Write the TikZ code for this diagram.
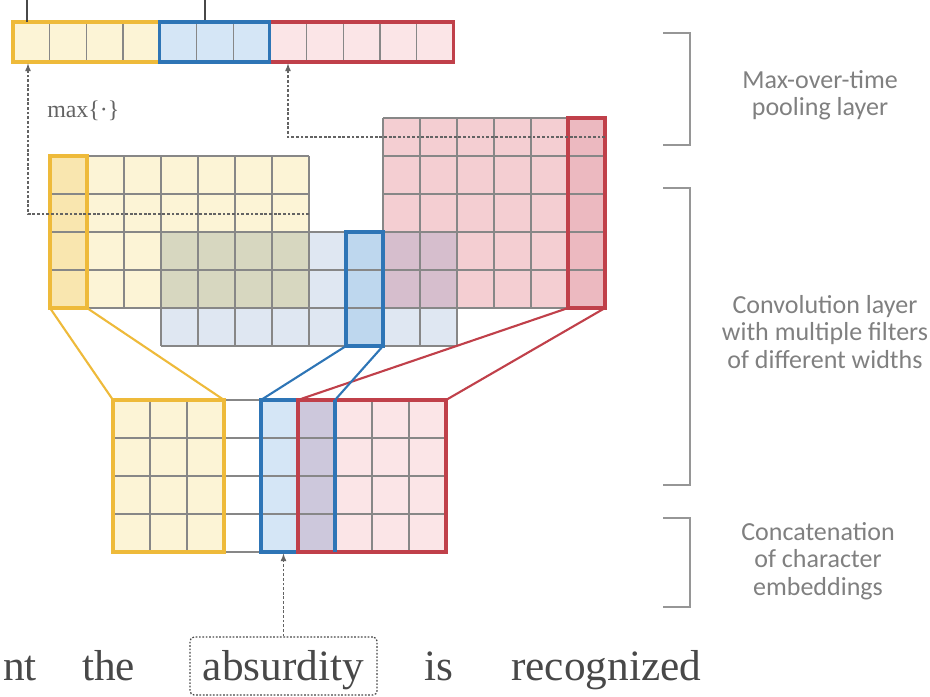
\documentclass[tikz,border=0pt]{standalone}
\usepackage{fontspec}
\setmainfont{Liberation Serif}
\newfontfamily\lblfont{Carlito}

\definecolor{ygold}{RGB}{238,186,58}
\definecolor{yfill}{RGB}{252,244,214}
\definecolor{yhl}{RGB}{249,230,175}
\definecolor{bblue}{RGB}{46,117,182}
\definecolor{bfill}{RGB}{223,231,242}
\definecolor{bbar}{RGB}{213,230,246}
\definecolor{bhl}{RGB}{190,215,238}
\definecolor{rred}{RGB}{192,64,74}
\definecolor{rfill}{RGB}{244,206,210}
\definecolor{rbar}{RGB}{251,229,231}
\definecolor{rhl}{RGB}{236,185,192}
\definecolor{ybov}{RGB}{215,215,192}
\definecolor{brov}{RGB}{214,190,205}
\definecolor{embov}{RGB}{205,200,220}
\definecolor{gridgray}{RGB}{135,135,135}
\definecolor{brkgray}{RGB}{150,150,150}
\definecolor{lblgray}{RGB}{128,128,128}
\definecolor{txtgray}{RGB}{72,72,72}

\begin{document}
\begin{tikzpicture}[x=0.025cm,y=-0.025cm,
  gridln/.style={draw=gridgray,line width=0.9pt},
  hlbox/.style={draw=#1,line width=2.2pt,inner sep=0pt,outer sep=0pt},
  conn/.style={draw=#1,line width=1.5pt},
  poolarr/.style={draw=txtgray!85,line width=0.9pt,dash pattern=on 2pt off 1.3pt,-latex,shorten >=1pt},
  tickln/.style={draw=txtgray,line width=1.4pt},
  brk/.style={draw=brkgray,line width=1.4pt},
  lbl/.style={font=\lblfont\fontsize{18.5}{19.5}\selectfont,text=lblgray,align=center,inner sep=0pt},
  word/.style={font=\fontsize{30.8}{36}\selectfont,text=txtgray,inner sep=0pt},
  maxlbl/.style={font=\fontsize{17}{20}\selectfont,text=txtgray!85,inner sep=0pt}]
\useasboundingbox (0,0) rectangle (930,697);

% Max-over-time pooling layer
\fill[yfill] (13,22) rectangle (159.8,62);
\fill[bbar] (159.8,22) rectangle (269.9,62);
\fill[rbar] (269.9,22) rectangle (453.4,62);
\foreach \i in {1,...,11} \draw[gridln] ({13+36.7*\i},23) -- ({13+36.7*\i},61);
\node[hlbox=ygold,minimum width=3.67cm,minimum height=1cm] (pooly) at (86.4,42) {};
\node[hlbox=rred,minimum width=4.5875cm,minimum height=1cm] (poolr) at (361.65,42) {};
\node[hlbox=bblue,minimum width=2.7525cm,minimum height=1cm] (poolb) at (214.85,42) {};

\coordinate (tick1) at (27,-3);
\coordinate (tick2) at (205,-3);
\draw[tickln] (tick1) -- (tick1 |- pooly.north);
\draw[tickln] (tick2) -- ([yshift=1.5pt]tick2 |- poolb.north);

% Convolution layer: three feature maps
\fill[bfill] (161,232) rectangle (457,346);
\fill[yfill] (50,156) rectangle (309,308);
\fill[rfill] (383,118) rectangle (605,308);
\fill[ybov] (161,232) rectangle (309,308);
\fill[brov] (383,232) rectangle (457,308);
\fill[yhl] (50,156) rectangle (87,308);
\fill[bhl] (346,232) rectangle (383,346);
\fill[rhl] (568,118) rectangle (605,308);

\foreach \i in {0,...,7} \draw[gridln] ({50+37*\i},156) -- ({50+37*\i},308);
\foreach \j in {0,...,4} \draw[gridln] (50,{156+38*\j}) -- (309,{156+38*\j});
\foreach \i in {0,...,8} \draw[gridln] ({161+37*\i},232) -- ({161+37*\i},346);
\foreach \j in {0,...,3} \draw[gridln] (161,{232+38*\j}) -- (457,{232+38*\j});
\foreach \i in {0,...,6} \draw[gridln] ({383+37*\i},118) -- ({383+37*\i},308);
\foreach \j in {0,...,5} \draw[gridln] (383,{118+38*\j}) -- (605,{118+38*\j});

\node[hlbox=ygold,minimum width=0.925cm,minimum height=3.8cm] (yhlc) at (68.5,232) {};
\node[hlbox=bblue,minimum width=0.925cm,minimum height=2.85cm] (bhlc) at (364.5,289) {};
\node[hlbox=rred,minimum width=0.925cm,minimum height=4.75cm] (rhlc) at (586.5,213) {};

% max pooling (dashed)
\coordinate (ydash) at (28,214);
\coordinate (rdash) at (288,137);
\coordinate (ymapE) at (309,214);
\draw[poolarr] (ymapE) -- (ydash) -- (ydash |- pooly.south);
\draw[poolarr] (rhlc.east |- rdash) -- (rdash) -- (rdash |- poolr.south);
\node[maxlbl,anchor=base west] (maxop) at (47,117) {max\{·\}};

% Concatenation of character embeddings
\fill[yfill] (113,400) rectangle (224,552);
\fill[bbar] (261,400) rectangle (298,552);
\fill[embov] (298,400) rectangle (335,552);
\fill[rbar] (335,400) rectangle (446,552);
\foreach \i in {0,...,9} \draw[gridln] ({113+37*\i},400) -- ({113+37*\i},552);
\foreach \j in {0,...,4} \draw[gridln] (113,{400+38*\j}) -- (446,{400+38*\j});
\node[hlbox=ygold,minimum width=2.775cm,minimum height=3.8cm] (yemb) at (168.5,476) {};
\node[hlbox=bblue,minimum width=1.85cm,minimum height=3.8cm] (bemb) at (298,476) {};
\node[hlbox=rred,minimum width=3.7cm,minimum height=3.8cm] (remb) at (372,476) {};
\draw[bblue,line width=2.2pt] (bemb.north east) -- (bemb.south east);

% filters
\draw[conn=ygold] (yhlc.south west) -- (yemb.north west);
\draw[conn=ygold] (yhlc.south east) -- (yemb.north east);
\draw[conn=rred] (rhlc.south west) -- (remb.north west);
\draw[conn=rred] (rhlc.south east) -- (remb.north east);
\draw[conn=bblue] (bhlc.south west) -- (bemb.north west);
\draw[conn=bblue] (bhlc.south east) -- (bemb.north east);

% sentence
\node[word,anchor=base east] (wnt) at (37,680) {nt};
\node[word,anchor=base west] (wthe) at (82,680) {the};
\node[word,draw=txtgray,line width=0.9pt,dash pattern=on 1.2pt off 1.2pt,rounded corners=3pt,
  minimum width=4.675cm,text height=1.075cm,text depth=0.375cm,anchor=base] (wabs) at (283.5,680) {absurdity};
\node[word,anchor=base west] (wis) at (424,680) {is};
\node[word,anchor=base west] (wrec) at (511,680) {recognized};
\draw[poolarr] (wabs.north) -- (wabs.north |- yemb.south);

% layer brackets
\draw[brk] (663,33) -- (690,33) -- (690,145) -- (663,145);
\draw[brk] (663,188) -- (690,188) -- (690,485) -- (663,485);
\draw[brk] (663,518) -- (690,518) -- (690,607) -- (663,607);
\node[lbl] (lblpool) at (820,95) {Max-over-time\\pooling layer};
\node[lbl] (lblconv) at (825,332) {Convolution layer\\with multiple filters\\of different widths};
\node[lbl] (lblemb) at (818,561) {Concatenation\\of character\\embeddings};
\end{tikzpicture}
\end{document}
